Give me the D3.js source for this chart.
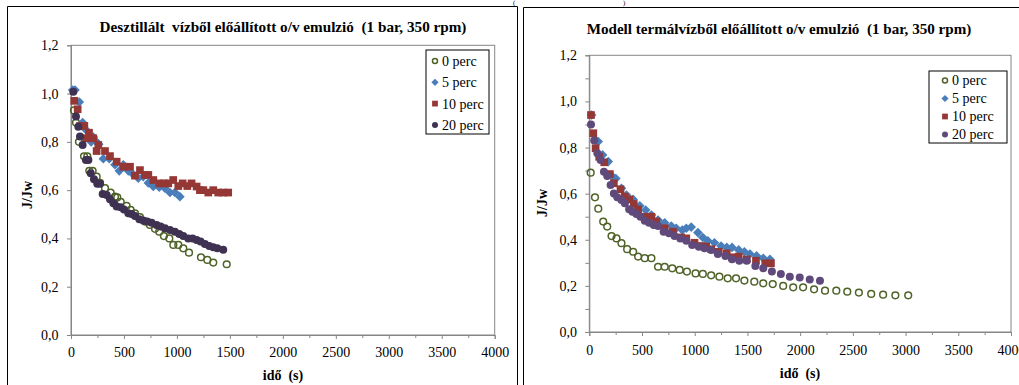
<!DOCTYPE html>
<html><head><meta charset="utf-8">
<script src="https://cdn.jsdelivr.net/npm/d3@7"></script>
<style>
html,body{margin:0;padding:0;background:#fff;}
svg{display:block;font-family:"Liberation Serif","Times New Roman",serif;}
</style></head>
<body><svg id="c" width="1019" height="385" font-family="Liberation Serif, Times New Roman, serif"></svg>
<script>
// ---------- DATA ----------
const seriesNames = ["0 perc", "5 perc", "10 perc", "20 perc"];
const xTicks = [0, 500, 1000, 1500, 2000, 2500, 3000, 3500, 4000];
const yTicks = [0, 0.2, 0.4, 0.6, 0.8, 1.0, 1.2];
const leftTitle = "Desztillált  vízből előállított o/v emulzió  (1 bar, 350 rpm)";
const rightTitle = "Modell termálvízből előállított o/v emulzió  (1 bar, 350 rpm)";
const xTitle = "idő  (s)";
const yTitle = "J/Jw";

// Left panel (distilled water)
const dist0 = [[28,0.93],[47,0.88],[75,0.80],[123,0.74],[154,0.74],[173,0.68],[204,0.68],[242,0.656],[274,0.63],[321,0.608],[374,0.59],[415,0.573],[437,0.57],[469,0.552],[525,0.535],[563,0.518],[604,0.504],[651,0.488],[698,0.47],[745,0.456],[793,0.440],[833,0.428],[877,0.41],[928,0.40],[966,0.373],[1013,0.373],[1060,0.359],[1114,0.341],[1227,0.322],[1287,0.311],[1343,0.30],[1470,0.293]];
const dist5 = [[16,1.015],[38,1.015],[79,0.965],[110,0.88],[140,0.85],[165,0.82],[190,0.80],[211,0.82],[240,0.80],[262,0.79],[305,0.73],[362,0.73],[415,0.705],[456,0.68],[494,0.705],[541,0.68],[588,0.665],[635,0.65],[682,0.656],[730,0.63],[777,0.615],[833,0.612],[887,0.608],[934,0.59],[981,0.59],[1028,0.573]];
const dist10 = [[31,0.97],[63,0.935],[85,0.866],[126,0.866],[148,0.815],[170,0.838],[210,0.815],[242,0.762],[258,0.787],[321,0.762],[368,0.741],[431,0.718],[494,0.697],[557,0.697],[604,0.66],[651,0.683],[698,0.663],[730,0.663],[777,0.642],[833,0.628],[877,0.628],[918,0.628],[965,0.642],[1013,0.617],[1054,0.628],[1098,0.617],[1138,0.628],[1186,0.615],[1217,0.60],[1249,0.60],[1296,0.59],[1343,0.60],[1390,0.59],[1437,0.59],[1484,0.59]];
const dist20 = [[22,1.008],[47,0.905],[69,0.863],[85,0.822],[110,0.787],[141,0.725],[164,0.725],[186,0.67],[217,0.645],[248,0.626],[274,0.626],[299,0.584],[337,0.58],[368,0.562],[400,0.546],[431,0.532],[469,0.529],[500,0.52],[541,0.504],[572,0.501],[604,0.493],[645,0.479],[682,0.474],[720,0.47],[761,0.465],[808,0.456],[846,0.449],[887,0.442],[934,0.435],[981,0.428],[1022,0.418],[1060,0.41],[1107,0.40],[1148,0.40],[1186,0.394],[1223,0.387],[1264,0.377],[1305,0.369],[1343,0.363],[1381,0.359],[1437,0.353]];

// Right panel (model thermal water)
const therm0 = [[13,0.691],[54,0.584],[85,0.535],[132,0.479],[170,0.457],[211,0.416],[258,0.406],[305,0.385],[359,0.359],[416,0.348],[463,0.327],[526,0.32],[589,0.32],[652,0.283],[715,0.283],[787,0.276],[857,0.269],[926,0.262],[1008,0.254],[1077,0.252],[1156,0.246],[1234,0.24],[1313,0.233],[1392,0.233],[1471,0.223],[1565,0.218],[1650,0.211],[1740,0.208],[1839,0.20],[1934,0.194],[2028,0.194],[2132,0.185],[2236,0.179],[2343,0.179],[2447,0.175],[2557,0.171],[2674,0.165],[2787,0.162],[2903,0.159],[3025,0.159]];
const therm5 = [[22,0.941],[63,0.83],[85,0.826],[126,0.768],[180,0.739],[220,0.674],[252,0.666],[305,0.623],[353,0.594],[416,0.575],[479,0.547],[535,0.529],[589,0.507],[652,0.486],[715,0.474],[778,0.46],[825,0.45],[882,0.442],[920,0.45],[967,0.455],[1030,0.431],[1077,0.41],[1124,0.396],[1187,0.387],[1250,0.373],[1304,0.367],[1354,0.367],[1417,0.356],[1471,0.348],[1524,0.338],[1587,0.33],[1650,0.32],[1713,0.315]];
const therm10 = [[16,0.941],[38,0.862],[60,0.797],[94,0.76],[142,0.736],[195,0.685],[233,0.645],[296,0.619],[337,0.587],[378,0.575],[422,0.555],[463,0.532],[526,0.50],[589,0.50],[636,0.479],[715,0.45],[794,0.435],[872,0.41],[920,0.406],[998,0.387],[1061,0.373],[1108,0.37],[1156,0.359],[1228,0.348],[1304,0.341],[1354,0.324],[1417,0.327],[1493,0.315],[1581,0.309],[1669,0.298],[1723,0.298]];
const therm20 = [[16,0.90],[47,0.83],[76,0.775],[107,0.746],[139,0.695],[170,0.677],[202,0.638],[233,0.601],[265,0.584],[305,0.572],[337,0.558],[378,0.532],[409,0.522],[447,0.512],[485,0.50],[526,0.483],[567,0.474],[611,0.464],[652,0.46],[705,0.435],[756,0.428],[809,0.416],[863,0.406],[920,0.396],[976,0.377],[1039,0.37],[1093,0.363],[1156,0.356],[1219,0.338],[1291,0.33],[1354,0.315],[1423,0.309],[1493,0.309],[1575,0.286],[1650,0.276],[1732,0.262],[1817,0.252],[1902,0.24],[1996,0.236],[2091,0.228],[2188,0.222]];

// ---------- DRAW ----------
const FONT = "Liberation Serif, Times New Roman, serif";
const svg = d3.select("#c");
const fmt = d => d3.format(".1f")(d).replace(".", ",");

function marker(g, type, color, size, x, y) {
  if (type === 0) {
    g.append("circle").attr("cx", x).attr("cy", y).attr("r", size * 0.42)
      .attr("fill", "none").attr("stroke", color).attr("stroke-width", 1.5);
  } else if (type === 1) {
    const s = size * 0.6;
    g.append("path").attr("d", `M${x},${y - s}L${x + s},${y}L${x},${y + s}L${x - s},${y}Z`).attr("fill", color);
  } else if (type === 2) {
    const s = size * 0.48;
    g.append("rect").attr("x", x - s).attr("y", y - s).attr("width", 2 * s).attr("height", 2 * s).attr("fill", color);
  } else {
    g.append("circle").attr("cx", x).attr("cy", y).attr("r", size * 0.5).attr("fill", color);
  }
}

function panel(cfg) {
  const x = d3.scaleLinear().domain([0, 4000]).range([cfg.x0, cfg.x1]);
  const y = d3.scaleLinear().domain([0, 1.2]).range([cfg.y0, cfg.y1]);
  const g = svg.append("g");

  // frame
  g.append("path").attr("d", cfg.frame).attr("fill", "none").attr("stroke", "#000").attr("stroke-width", 1);

  // plot area box
  g.append("rect").attr("x", cfg.x0).attr("y", cfg.y1).attr("width", cfg.x1 - cfg.x0).attr("height", cfg.y0 - cfg.y1)
    .attr("fill", "none").attr("stroke", "#868686").attr("stroke-width", 1);

  // x axis: minor ticks each 250, labels each 500
  const xa = d3.axisBottom(x).tickValues(d3.range(0, 4001, 250)).tickSize(4).tickPadding(5)
    .tickFormat(d => (xTicks.includes(d) ? d : ""));
  const gx = g.append("g").attr("transform", `translate(0,${cfg.y0})`).call(xa).attr("font-family", FONT);
  gx.select(".domain").attr("stroke", "#868686");
  gx.selectAll(".tick line").attr("stroke", "#868686").attr("y2", d => (d % 500 === 0 ? 4 : 3));
  gx.selectAll(".tick text").attr("font-size", 14).attr("fill", "#000").attr("dy", "0.71em")
    .attr("y", cfg.xLabY - cfg.y0 - 10);

  // y axis
  const yv = cfg.yMinor ? d3.range(0, 12.5, 1).map(d => d / 10) : yTicks;
  const ya = d3.axisLeft(y).tickValues(yv).tickSize(4).tickPadding(5)
    .tickFormat(d => (Math.round(d * 10) % 2 === 0 ? fmt(d) : ""));
  const gy = g.append("g").attr("transform", `translate(${cfg.x0},0)`).call(ya).attr("font-family", FONT);
  gy.select(".domain").attr("stroke", "#868686");
  gy.selectAll(".tick line").attr("stroke", "#868686");
  gy.selectAll(".tick text").attr("font-size", 14).attr("fill", "#000")
    .attr("x", cfg.yLabX - cfg.x0);

  // series
  const sgAll = g.append("g");
  cfg.data.forEach((arr, i) => {
    const sg = sgAll.append("g");
    arr.forEach(d => marker(sg, i, cfg.colors[i], cfg.msize, x(d[0]), y(d[1])));
  });

  // titles
  const t = g.append("text").attr("x", cfg.titleX).attr("y", cfg.titleY).attr("text-anchor", "middle")
    .attr("font-weight", "bold").attr("font-size", 13).attr("xml:space", "preserve").text(cfg.title);
  const w = t.node().getComputedTextLength();
  t.attr("font-size", 13 * cfg.titleW / w);

  g.append("text").attr("x", cfg.xTitleX).attr("y", cfg.xTitleY).attr("text-anchor", "middle")
    .attr("font-weight", "bold").attr("font-size", 14).attr("xml:space", "preserve").text(xTitle);
  g.append("text").attr("transform", `translate(${cfg.yTitleX},${cfg.yTitleY}) rotate(-90)`).attr("text-anchor", "middle")
    .attr("font-weight", "bold").attr("font-size", 14).text(yTitle);

  // legend
  const L = cfg.legend;
  g.append("rect").attr("x", L.x).attr("y", L.y).attr("width", L.w).attr("height", L.h)
    .attr("fill", "#fff").attr("stroke", "#000").attr("stroke-width", 1);
  seriesNames.forEach((n, i) => {
    const cy = L.y0 + i * L.dy;
    marker(g, i, cfg.colors[i], 6, L.mx, cy);
    g.append("text").attr("x", L.tx).attr("y", cy).attr("dy", "0.35em").attr("font-size", 14).text(n);
  });
}

// fragments of a caption above the picture
svg.append("text").attr("x", 513).attr("y", 5).attr("font-size", 7).text("(");
svg.append("text").attr("x", 623).attr("y", 5).attr("font-size", 7).text(")");

panel({
  x0: 71, x1: 494.7, y0: 335, y1: 45.3,
  frame: "M7.5,385V6.5H517.5V385",
  yMinor: false,
  data: [dist0, dist5, dist10, dist20],
  colors: ["#4f6228", "#4a7ebb", "#953735", "#3f3151"],
  msize: 8,
  xLabY: 357, yLabX: 58.5,
  title: leftTitle, titleX: 283, titleY: 32, titleW: 367,
  xTitleX: 283, xTitleY: 380, yTitleX: 32, yTitleY: 195,
  legend: {x: 426, y: 50, w: 63, h: 84, y0: 61, dy: 21.3, mx: 435, tx: 442}
});

panel({
  x0: 589.3, x1: 1011, y0: 332, y1: 55.3,
  frame: "M523.5,385V7.5H1019",
  yMinor: true,
  data: [therm0, therm5, therm10, therm20],
  colors: ["#4f6228", "#4a7ebb", "#953735", "#604a7b"],
  msize: 8,
  xLabY: 355, yLabX: 577,
  title: rightTitle, titleX: 779, titleY: 34, titleW: 385,
  xTitleX: 800, xTitleY: 378, yTitleX: 547, yTitleY: 203,
  legend: {x: 929, y: 71, w: 78, h: 72, y0: 80.5, dy: 18, mx: 945, tx: 952}
});
</script></body></html>
